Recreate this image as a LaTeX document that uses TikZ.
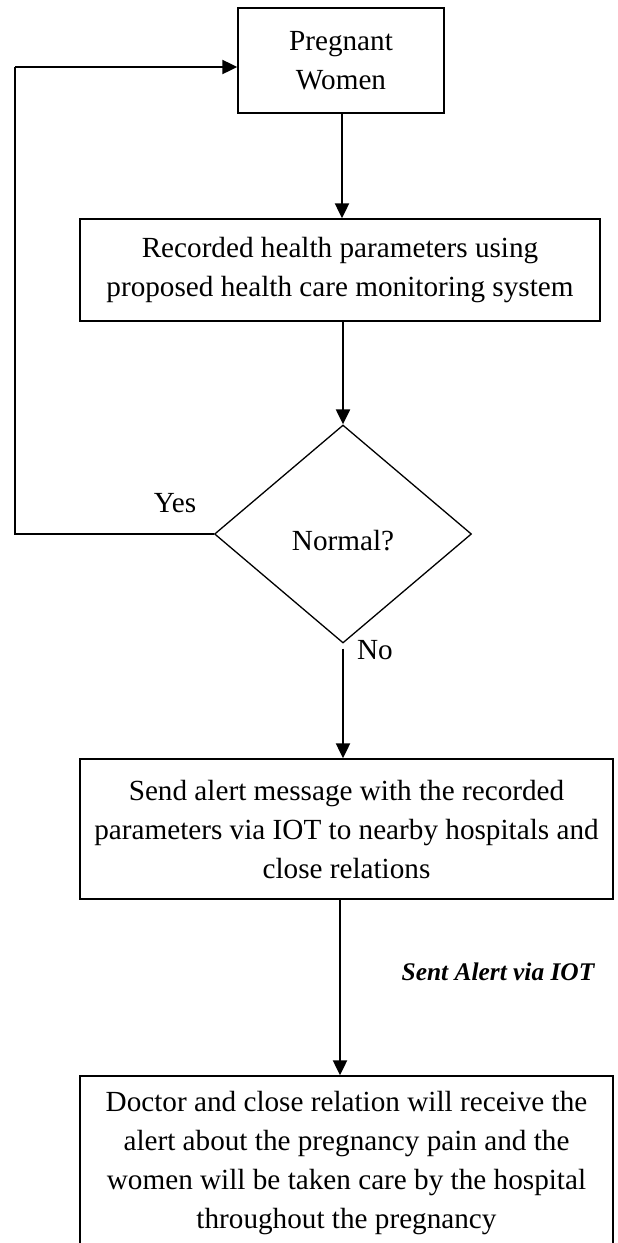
\documentclass[tikz,border=0pt]{standalone}
\usepackage{fontspec}
\setmainfont{Liberation Serif}
\usetikzlibrary{arrows.meta,shapes.geometric}
\begin{document}
\begin{tikzpicture}[x=1pt,y=-1pt,
  every node/.style={font=\fontsize{29.2}{39}\selectfont},
  box/.style={draw,line width=1.4pt,rectangle,align=center,inner sep=0pt},
  dec/.style={draw,line width=1.3pt,diamond,inner sep=0pt},
  arr/.style={line width=2.2pt,-{Triangle[length=15pt,width=14pt]}},
  ln/.style={line width=1.6pt},
  lab/.style={inner sep=0pt}]
\clip (0,0) rectangle (618,1243);
\fill[white] (0,0) rectangle (618,1243);
\node[box,minimum width=206pt,minimum height=105pt] (b1) at (341,60.5) {Pregnant\\Women};
\node[box,minimum width=520pt,minimum height=102pt] (b2) at (340,270) {Recorded health parameters using\\proposed health care monitoring system};
\node[dec,minimum width=257pt,minimum height=218pt] (d) at (343,534) {};
\node[lab] (dt) at (343,541) {Normal?};
\node[box,minimum width=533pt,minimum height=140pt] (b3) at (346.5,829) {Send alert message with the recorded\\parameters via IOT to nearby hospitals and\\close relations};
\node[box,minimum width=533pt,minimum height=174pt] (b4) at (346.5,1163) {Doctor and close relation will receive the\\alert about the pregnancy pain and the\\women will be taken care by the hospital\\throughout the pregnancy};
\node[lab] (yes) at (175,503) {Yes};
\node[lab] (no) at (375,650) {No};
\node[lab,font=\fontsize{25.4}{32}\selectfont\bfseries\itshape] (sent) at (498,972) {Sent Alert via IOT};
\coordinate (k1) at (342,0);
\coordinate (k2) at (340,0);
\coordinate (c1) at (15,534);
\coordinate (c2) at (15,67);
\draw[arr] (b1.south -| k1) -- (b2.north -| k1);
\draw[arr] (b2.south -| d.north) -- (d.north);
\draw[arr] ([yshift=-5pt]d.south) -- (b3.north -| d.south);
\draw[arr] (b3.south -| k2) -- (b4.north -| k2);
\draw[ln] (d.west) -- (c1) -- (c2);
\draw[arr] (c2) -- (b1.west |- c2);
\end{tikzpicture}
\end{document}
